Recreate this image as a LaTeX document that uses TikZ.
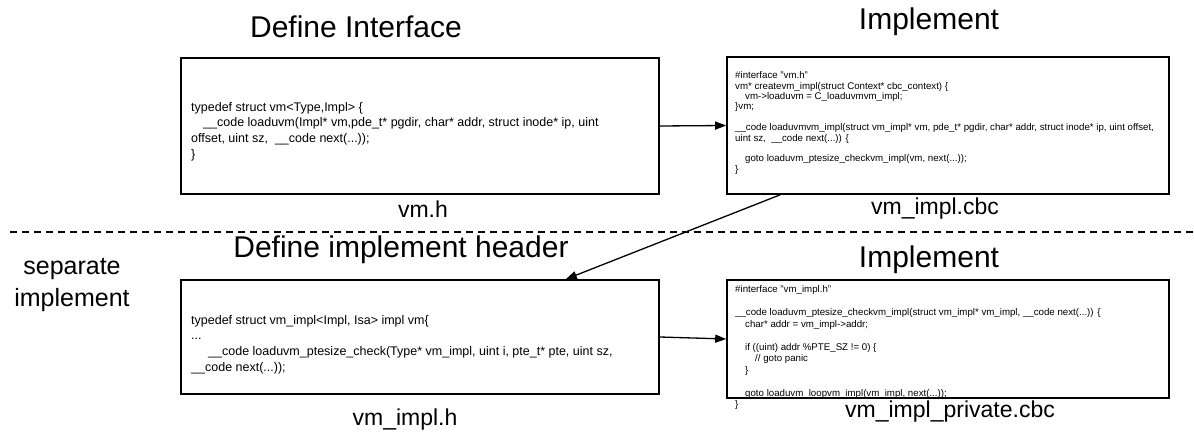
\documentclass[tikz,border=0pt]{standalone}
\usepackage{fontspec}
\setmainfont{Liberation Sans}
\usetikzlibrary{arrows.meta,calc}
\tikzset{
  codebox/.style={draw=black, line width=1.6pt, rectangle, inner sep=0pt},
  bigcode/.style={anchor=north west, align=left, inner sep=0pt, font=\fontsize{12.5}{15.7}\selectfont},
  smallcode/.style={anchor=north west, align=left, inner sep=0pt, font=\fontsize{9.7}{10.4}\selectfont},
  title/.style={inner sep=0pt, font=\fontsize{30}{34}\selectfont},
  filelabel/.style={inner sep=0pt, font=\fontsize{23}{26}\selectfont},
  conn/.style={line width=1.3pt, -{Triangle[length=11pt,width=8pt]}},
}
\newcommand{\ind}[1]{\hspace*{#1pt}}
\begin{document}
\begin{tikzpicture}[x=1pt,y=-1pt]
\useasboundingbox (0,0) rectangle (1194,435);

% boxes
\node[codebox, minimum width=478pt, minimum height=136pt] (b1) at (420,126) {};
\node[codebox, minimum width=442pt, minimum height=137pt] (b2) at (948,125.5) {};
\node[codebox, minimum width=478pt, minimum height=114pt] (b3) at (420,337) {};
\node[codebox, minimum width=442pt, minimum height=118pt] (b4) at (948,339) {};

% titles
\node[title] (h1) at (356,27) {Define Interface};
\node[title] (h2) at (929,22) {Implement};
\node[title] (h3) at (401,250) {Define implement header};
\node[title] (h4) at (929,260) {Implement};
\node[inner sep=0pt, align=center, font=\fontsize{25}{32}\selectfont] (sep) at (72,285) {separate\\implement};

% file labels
\node[filelabel] (l1) at (423,209) {vm.h};
\node[filelabel] (l2) at (935,209) {vm\_impl.cbc};
\node[filelabel] (l3) at (405,420) {vm\_impl.h};
\node[filelabel] (l4) at (950,412) {vm\_impl\_private.cbc};

% code texts
\node[bigcode] (t1) at (191,102) {typedef struct vm<Type,Impl> \{\\
\ind{12}\_\_code loaduvm(Impl* vm,pde\_t* pgdir, char* addr, struct inode* ip, uint\\
offset, uint sz,\ \ \_\_code next(...));\\
\}};

\node[smallcode] (t2) at (735,71.4) {\#interface "vm.h"\\
vm* createvm\_impl(struct Context* cbc\_context) \{\\
\ind{10}vm->loaduvm = C\_loaduvmvm\_impl;\\
\}vm;\\
\mbox{}\\
\_\_code loaduvmvm\_impl(struct vm\_impl* vm, pde\_t* pgdir, char* addr, struct inode* ip, uint offset,\\
uint sz,\ \ \_\_code next(...)) \{\\
\mbox{}\\
\ind{10}goto loaduvm\_ptesize\_checkvm\_impl(vm, next(...));\\
\}};

\node[bigcode] (t3) at (191,315) {typedef struct vm\_impl<Impl, Isa> impl vm\{\\
...\\
\ind{17}\_\_code loaduvm\_ptesize\_check(Type* vm\_impl, uint i, pte\_t* pte, uint sz,\\
\_\_code next(...));};

\node[smallcode, font=\fontsize{9.7}{11.5}\selectfont] (t4) at (735,285.4) {\#interface "vm\_impl.h"\\
\mbox{}\\
\_\_code loaduvm\_ptesize\_checkvm\_impl(struct vm\_impl* vm\_impl, \_\_code next(...)) \{\\
\ind{10}char* addr = vm\_impl->addr;\\
\mbox{}\\
\ind{10}if ((uint) addr \%PTE\_SZ != 0) \{\\
\ind{20}// goto panic\\
\ind{10}\}\\
\mbox{}\\
\ind{10}goto loaduvm\_loopvm\_impl(vm\_impl, next(...));\\
\}};

% separator
\coordinate (d1) at (10,232);
\coordinate (d2) at (1194,232);
\draw[line width=1.3pt, dash pattern=on 7pt off 5pt] (d1) -- (d2);

% connectors
\draw[conn] (b1.east) -- (b2.west);
\draw[conn] (b3.east) -- (b4.west);
\draw[conn] ($(b2.south west)+(54,0)$) -- ($(b3.north east)+(-94,0)$);
\end{tikzpicture}
\end{document}
